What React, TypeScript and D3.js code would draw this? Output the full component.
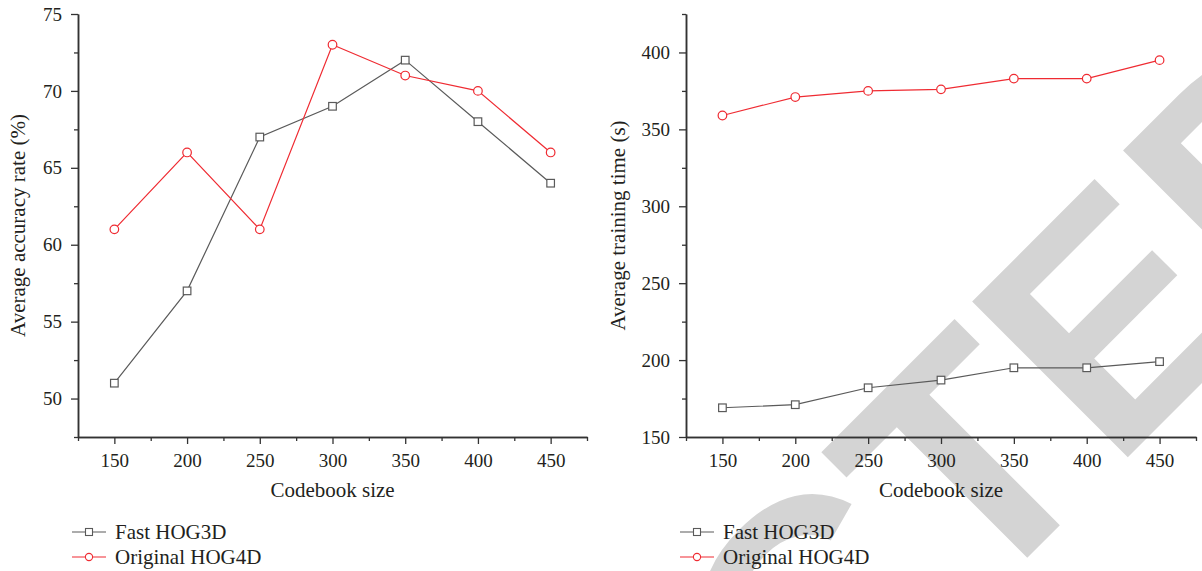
import React, { useEffect, useRef } from "react";
import * as d3 from "d3";

const codebookSizes = [150, 200, 250, 300, 350, 400, 450];
const minorSizes = [125, 175, 225, 275, 325, 375, 425, 475];

const accuracyFast = [51, 57, 67, 69, 72, 68, 64];
const accuracyOriginal = [61, 66, 61, 73, 71, 70, 66];
const accuracyTicks = [50, 55, 60, 65, 70, 75];
const accuracyMinor = [47.5, 52.5, 57.5, 62.5, 67.5, 72.5];

const timeFast = [169, 171, 182, 187, 195, 195, 199];
const timeOriginal = [359, 371, 375, 376, 383, 383, 395];
const timeTicks = [150, 200, 250, 300, 350, 400];
const timeMinor = [175, 225, 275, 325, 375, 425];

const seriesNames = ["Fast HOG3D", "Original HOG4D"];

const SERIF = "'Liberation Serif', 'Times New Roman', serif";
const TEXT = "#231f20";
const AXIS = "#333333";
const GRAY = "#5a5a5a";
const RED = "#ef2b32";
const TOP = 14;
const BOTTOM = 437;

type PanelProps = {
  x0: number;
  x1: number;
  yDomain: [number, number];
  yMajor: number[];
  yMinor: number[];
  yLabel: string;
  fast: number[];
  original: number[];
  labelX: number;
  legendX: number;
};

const Panel = ({ x0, x1, yDomain, yMajor, yMinor, yLabel, fast, original, labelX, legendX }: PanelProps) => {
  const axesRef = useRef<SVGGElement>(null);

  const xScale = d3.scaleLinear().domain([125, 475]).range([x0, x1]);
  const yScale = d3.scaleLinear().domain(yDomain).range([BOTTOM, TOP]);

  useEffect(() => {
    const g = d3.select(axesRef.current);
    g.selectAll("*").remove();

    const gx = g.append("g").attr("transform", `translate(0,${BOTTOM})`);
    gx.append("g").call(d3.axisBottom(xScale).tickValues(minorSizes).tickSize(4).tickSizeOuter(0).tickFormat(() => ""));
    gx.append("g").call(d3.axisBottom(xScale).tickValues(codebookSizes).tickSize(7).tickSizeOuter(0).tickPadding(10));

    const gy = g.append("g").attr("transform", `translate(${x0},0)`);
    gy.append("g").call(d3.axisLeft(yScale).tickValues(yMinor).tickSize(4).tickSizeOuter(0).tickFormat(() => ""));
    gy.append("g").call(d3.axisLeft(yScale).tickValues(yMajor).tickSize(7).tickSizeOuter(0).tickPadding(9));

    g.selectAll("path.domain").attr("stroke", AXIS).attr("stroke-width", 1.5);
    g.selectAll("line").attr("stroke", AXIS).attr("stroke-width", 1.3);
    g.selectAll("text").attr("font-size", 19).attr("font-family", SERIF).attr("fill", TEXT);
  }, [x0, x1, yDomain, yMajor, yMinor]);

  const line = d3
    .line<number>()
    .x((_, i) => xScale(codebookSizes[i]))
    .y((d) => yScale(d));

  const cx = (x0 + x1) / 2;
  const cy = (TOP + BOTTOM) / 2;

  return (
    <g>
      <g ref={axesRef} />
      <path d={line(fast) || ""} fill="none" stroke={GRAY} strokeWidth={1.2} />
      <path d={line(original) || ""} fill="none" stroke={RED} strokeWidth={1.2} />
      {fast.map((v, i) => (
        <rect
          key={"f" + i}
          x={xScale(codebookSizes[i]) - 3.8}
          y={yScale(v) - 3.8}
          width={7.6}
          height={7.6}
          fill="white"
          stroke={GRAY}
          strokeWidth={1.2}
        />
      ))}
      {original.map((v, i) => (
        <circle key={"o" + i} cx={xScale(codebookSizes[i])} cy={yScale(v)} r={4.3} fill="white" stroke={RED} strokeWidth={1.2} />
      ))}
      <text x={cx} y={497} textAnchor="middle" fontFamily={SERIF} fontSize={21} fill={TEXT}>
        Codebook size
      </text>
      <text
        transform={`translate(${labelX},${cy}) rotate(-90)`}
        textAnchor="middle"
        fontFamily={SERIF}
        fontSize={21}
        fill={TEXT}
      >
        {yLabel}
      </text>
      <g transform={`translate(${legendX},532)`}>
        <line x1={0} x2={34} y1={0} y2={0} stroke={GRAY} strokeWidth={1.2} />
        <rect x={13.5} y={-3.5} width={7} height={7} fill="white" stroke={GRAY} strokeWidth={1.1} />
        <text x={43} y={7} fontFamily={SERIF} fontSize={21} fill={TEXT}>
          {seriesNames[0]}
        </text>
      </g>
      <g transform={`translate(${legendX},557)`}>
        <line x1={0} x2={34} y1={0} y2={0} stroke={RED} strokeWidth={1.2} />
        <circle cx={17} cy={0} r={3.6} fill="white" stroke={RED} strokeWidth={1.1} />
        <text x={43} y={7} fontFamily={SERIF} fontSize={21} fill={TEXT}>
          {seriesNames[1]}
        </text>
      </g>
    </g>
  );
};

export default function App() {
  return (
    <svg
      width={1202}
      height={571}
      style={{ position: "absolute", left: 0, top: 0, background: "white" }}
    >
      <text
        transform="translate(1427,158) rotate(-45)"
        textAnchor="end"
        fontFamily="'Liberation Sans', Arial, sans-serif"
        fontWeight="bold"
        fontSize={320}
        fill="#d4d4d4"
      >
        RETRACTED
      </text>
      <Panel
        x0={78}
        x1={587}
        yDomain={[47.5, 75]}
        yMajor={accuracyTicks}
        yMinor={accuracyMinor}
        yLabel="Average accuracy rate (%)"
        fast={accuracyFast}
        original={accuracyOriginal}
        labelX={25}
        legendX={72}
      />
      <Panel
        x0={686}
        x1={1196}
        yDomain={[150, 425]}
        yMajor={timeTicks}
        yMinor={timeMinor}
        yLabel="Average training time (s)"
        fast={timeFast}
        original={timeOriginal}
        labelX={625}
        legendX={680}
      />
    </svg>
  );
}
